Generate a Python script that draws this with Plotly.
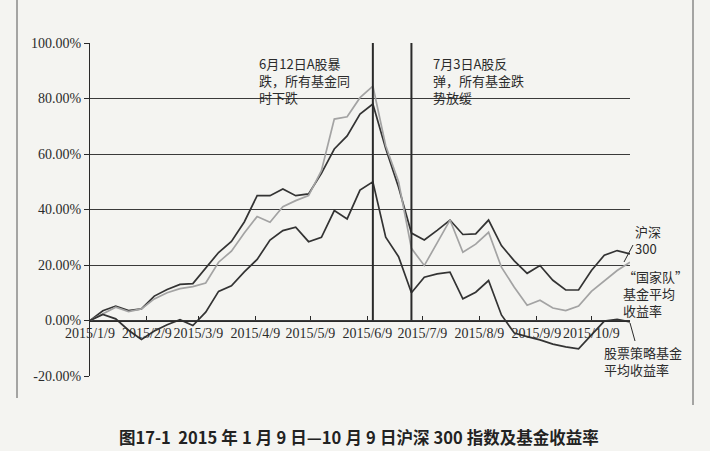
import pandas as pd
import plotly.graph_objects as go

# ---- data (weekly, from 2015-01-09) ----
start_date = "2015-01-09"
n_weeks = 43
hs300 = [0, 3.5, 5.2, 3.6, 4.2, 8.8, 11.2, 13.0, 13.3, 19.0, 24.5, 28.5, 35.5, 45.0, 45.0,
         47.4, 45.0, 45.6, 53.0, 61.8, 66.5, 74.4, 78.0, 62.0, 48.0, 31.5, 29.0, 32.5, 36.2,
         31.0, 31.2, 36.2, 27.0, 21.5, 17.0, 19.8, 14.5, 11.0, 11.0, 18.0, 23.5, 25.2, 24.0]
national_team = [0, 2.5, 4.8, 3.2, 4.2, 7.8, 10.0, 11.5, 12.2, 13.5, 21.0, 25.0, 31.5, 37.5,
                 35.4, 41.0, 43.2, 45.0, 54.0, 72.6, 73.4, 80.3, 84.5, 63.0, 50.0, 26.0, 19.8,
                 28.0, 36.2, 24.6, 27.5, 31.8, 19.2, 12.0, 5.5, 7.3, 4.5, 3.6, 5.2, 10.5, 14.4,
                 18.0, 21.0]
stock_strategy = [0, 2.2, 0.6, -3.5, -6.8, -3.8, -1.5, 0.3, -1.8, 3.0, 10.5, 12.5, 17.5, 22.0,
                  29.0, 32.4, 33.6, 28.4, 30.0, 39.6, 36.6, 47.0, 50.0, 30.0, 23.0, 10.0, 15.6,
                  16.8, 17.4, 7.8, 10.2, 14.4, 2.0, -4.5, -5.8, -7.0, -8.5, -9.5, -10.2, -5.0,
                  -0.2, 0.4, -0.5]
tick_dates = ["2015-01-09", "2015-02-09", "2015-03-09", "2015-04-09", "2015-05-09",
              "2015-06-09", "2015-07-09", "2015-08-09", "2015-09-09", "2015-10-09"]
tick_labels = ["2015/1/9", "2015/2/9", "2015/3/9", "2015/4/9", "2015/5/9",
               "2015/6/9", "2015/7/9", "2015/8/9", "2015/9/9", "2015/10/9"]
y_ticks = [-20, 0, 20, 40, 60, 80, 100]
y_labels = ["-20.00%", "0.00%", "20.00%", "40.00%", "60.00%", "80.00%", "100.00%"]
event_dates = ["2015-06-12", "2015-07-03"]
event_texts = ["6月12日A股暴<br>跌，所有基金同<br>时下跌",
               "7月3日A股反<br>弹，所有基金跌<br>势放缓"]
label_hs300 = "沪深<br>300"
label_national = "“国家队”<br>基金平均<br>收益率"
label_stock = "股票策略基金<br>平均收益率"
title_text = "图17-1  2015\u2005年\u20051\u2005月\u20059\u2005日—10\u2005月\u20059\u2005日沪深\u2005300\u2005指数及基金收益率"

dates = pd.date_range(start_date, periods=n_weeks, freq="7D")

W, H = 710, 451
L, R, T, B = 90, 630, 43, 376  # plot area pixels


def px(x):
    return (x - L) / (R - L)


def py(y):
    return (B - y) / (B - T)


SERIF = "Liberation Serif"
CJK = "Noto Sans CJK SC"
INK = "#2b2b2b"

fig = go.Figure()
fig.add_trace(go.Scatter(x=dates, y=hs300, mode="lines", name="沪深300",
                         line=dict(color="#333333", width=1.7)))
fig.add_trace(go.Scatter(x=dates, y=national_team, mode="lines", name="国家队",
                         line=dict(color="#a3a3a3", width=1.7)))
fig.add_trace(go.Scatter(x=dates, y=stock_strategy, mode="lines", name="股票策略",
                         line=dict(color="#333333", width=1.7)))

shapes = []
for d in event_dates:
    shapes.append(dict(type="line", xref="x", yref="y", x0=d, x1=d, y0=0, y1=100,
                       line=dict(color="#2a2a2a", width=2)))
# leader lines for right-side labels
shapes.append(dict(type="line", xref="paper", yref="paper", x0=px(624), y0=py(262),
                   x1=px(633), y1=py(245), line=dict(color=INK, width=1)))
shapes.append(dict(type="line", xref="paper", yref="paper", x0=px(630), y0=py(323),
                   x1=px(635), y1=py(341), line=dict(color=INK, width=1)))
# outer frame
shapes.append(dict(type="line", xref="paper", yref="paper", x0=px(17), y0=py(0),
                   x1=px(17), y1=py(398), line=dict(color="#555555", width=1)))
shapes.append(dict(type="line", xref="paper", yref="paper", x0=px(693), y0=py(0),
                   x1=px(693), y1=py(405), line=dict(color="#555555", width=1)))

annotations = []
for xi, t in zip([257, 431], event_texts):
    annotations.append(dict(text=t, xref="paper", yref="paper", x=px(xi), y=py(80),
                            xanchor="left", yanchor="middle", align="left", showarrow=False,
                            font=dict(family=CJK, size=13, color=INK)))

for t, xi, yi in [(label_hs300, 633, 240), (label_national, 621, 293),
                  (label_stock, 602, 360.5)]:
    annotations.append(dict(text=t, xref="paper", yref="paper", x=px(xi), y=py(yi),
                            xanchor="left", yanchor="middle", align="left", showarrow=False,
                            font=dict(family=CJK, size=13, color=INK)))

annotations.append(dict(text="<b>" + title_text + "</b>", xref="paper", yref="paper",
                        x=px(359), y=py(437), xanchor="center", yanchor="middle",
                        showarrow=False, font=dict(family=CJK, size=16.5, color="#222222")))

fig.update_layout(
    width=W, height=H,
    margin=dict(l=L, r=W - R, t=T, b=H - B, pad=0),
    paper_bgcolor="#f4f4f1", plot_bgcolor="#f4f4f1",
    showlegend=False,
    shapes=shapes, annotations=annotations,
    xaxis=dict(type="date", range=[dates[0], dates[-1]], tickvals=tick_dates,
               ticktext=tick_labels, showgrid=False, zeroline=False,
               anchor="free", position=20 / 120, showline=True,
               linecolor="#2a2a2a", linewidth=1.2, ticks="inside", ticklen=4,
               tickcolor="#2a2a2a", tickangle=0,
               tickfont=dict(family=SERIF, size=14, color=INK)),
    yaxis=dict(range=[-20, 100], tickvals=y_ticks, ticktext=y_labels,
               showgrid=True, gridcolor="#3a3a3a", gridwidth=1, zeroline=False,
               showline=True, linecolor="#2a2a2a", linewidth=1.2,
               ticks="outside", ticklen=5, tickcolor="#2a2a2a",
               tickfont=dict(family=SERIF, size=14, color=INK)),
)

fig.write_html("out.html", config={"displayModeBar": False},
               post_script="document.body.style.margin='0px';")
